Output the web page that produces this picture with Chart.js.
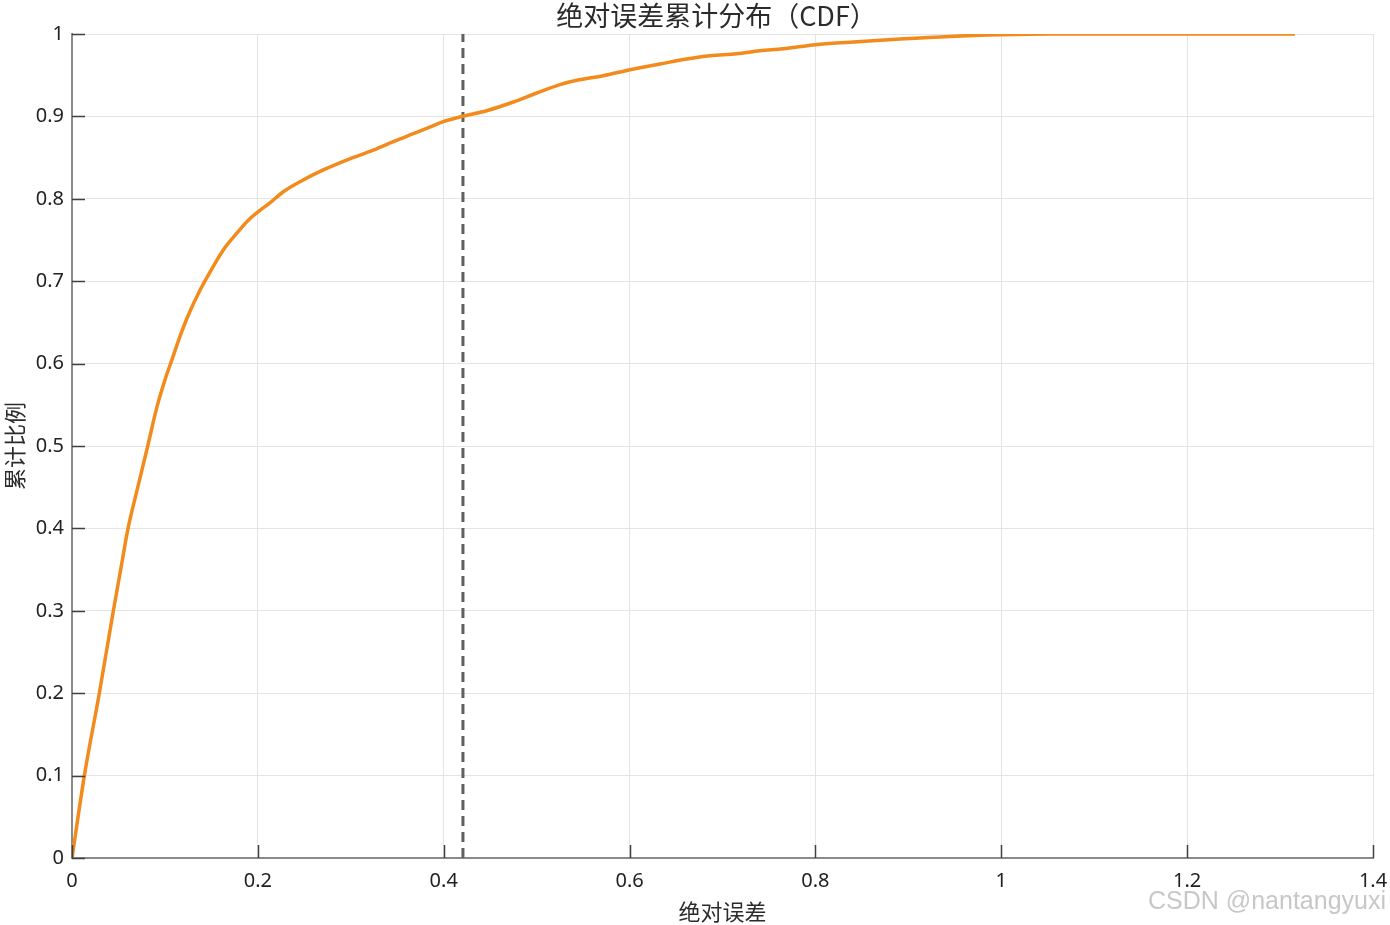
<!DOCTYPE html>
<html>
<head>
<meta charset="utf-8">
<script src="https://cdn.jsdelivr.net/npm/chart.js@4.4.1/dist/chart.umd.min.js"></script>
<style>
  html, body { margin: 0; padding: 0; background: #ffffff; }
  #wrap { width: 1390px; height: 925px; position: relative; }
</style>
</head>
<body>
<div id="wrap"><canvas id="c" width="1390" height="925"></canvas></div>
<script>
// ---- Data ----
const chartTitle = '绝对误差累计分布（CDF）';
const xAxisTitle = '绝对误差';
const yAxisTitle = '累计比例';
const watermark = 'CSDN @nantangyuxi';

const errValues = [0, 0.0133, 0.0294, 0.0445, 0.0524, 0.0603, 0.0708, 0.0815, 0.0911, 0.1011,
  0.1073, 0.1162, 0.1252, 0.1377, 0.1467, 0.1628, 0.1772, 0.1897, 0.2023, 0.2113,
  0.2274, 0.2453, 0.2704, 0.2955, 0.3242, 0.3458, 0.3673, 0.3817, 0.3996, 0.4218,
  0.4462, 0.4749, 0.500, 0.5251, 0.5431, 0.5717, 0.6005, 0.6327, 0.6615, 0.6865,
  0.7152, 0.7403, 0.765, 0.8003, 0.837, 0.891, 0.9448, 1.0, 1.052, 1.316];
const cdfValues = [0, 0.1, 0.2, 0.3, 0.35, 0.4, 0.45, 0.5, 0.546, 0.584,
  0.604, 0.633, 0.659, 0.689, 0.7075, 0.738, 0.758, 0.774, 0.786, 0.7935,
  0.8086, 0.8208, 0.835, 0.847, 0.859, 0.8693, 0.879, 0.8855, 0.8936, 0.9005,
  0.9069, 0.9175, 0.9284, 0.9385, 0.9438, 0.9494, 0.9567, 0.9636, 0.9697, 0.9737,
  0.9760, 0.9797, 0.982, 0.987, 0.990, 0.9939, 0.9971, 0.9991, 1.0, 1.0];

const markerX = [0.4207, 0.4207];   // 90% quantile marker line
const markerY = [0, 1];

const xTicks = [0, 0.2, 0.4, 0.6, 0.8, 1, 1.2, 1.4];
const xTickLabels = ['0', '0.2', '0.4', '0.6', '0.8', '1', '1.2', '1.4'];
const yTicks = [0, 0.1, 0.2, 0.3, 0.4, 0.5, 0.6, 0.7, 0.8, 0.9, 1];
const yTickLabels = ['0', '0.1', '0.2', '0.3', '0.4', '0.5', '0.6', '0.7', '0.8', '0.9', '1'];

// ---- Styles ----
const CJK = '"Noto Sans CJK SC", "Noto Sans", sans-serif';
const NUM = '"Noto Sans", "Noto Sans CJK SC", sans-serif';

const cdfPoints = errValues.map((x, i) => ({ x: x, y: cdfValues[i] }));
const markerPoints = markerX.map((x, i) => ({ x: x, y: markerY[i] }));

const extrasPlugin = {
  id: 'extras',
  afterDraw(chart) {
    const ctx = chart.ctx;
    const a = chart.chartArea;
    const xs = chart.scales.x, ys = chart.scales.y;
    ctx.save();
    // inward tick marks
    ctx.strokeStyle = '#404040';
    ctx.lineWidth = 1.5;
    ctx.beginPath();
    xTicks.forEach(v => {
      const px = Math.round(xs.getPixelForValue(v)) + 0.5;
      ctx.moveTo(px, a.bottom);
      ctx.lineTo(px, a.bottom - 13);
    });
    yTicks.forEach(v => {
      const py = Math.round(ys.getPixelForValue(v)) + 0.5;
      ctx.moveTo(a.left, py);
      ctx.lineTo(a.left + 13, py);
    });
    ctx.stroke();
    // title
    ctx.fillStyle = '#2b2b2b';
    ctx.font = '27px ' + CJK;
    ctx.textAlign = 'center';
    ctx.textBaseline = 'middle';
    ctx.fillText(chartTitle, (a.left + a.right) / 2 - 6, 16);
    // watermark
    ctx.fillStyle = 'rgba(185,185,185,0.8)';
    ctx.font = '25px "Liberation Sans", Arial, sans-serif';
    ctx.textAlign = 'right';
    ctx.textBaseline = 'middle';
    ctx.fillText(watermark, 1386, 902);
    ctx.restore();
  }
};

new Chart(document.getElementById('c'), {
  type: 'line',
  data: {
    datasets: [
      {
        label: 'CDF',
        data: cdfPoints,
        borderColor: '#F28A1C',
        borderWidth: 3.5,
        pointRadius: 0,
        cubicInterpolationMode: 'monotone',
        fill: false
      },
      {
        label: 'marker',
        data: markerPoints,
        borderColor: '#606060',
        borderWidth: 3,
        borderDash: [10, 6],
        pointRadius: 0,
        fill: false
      }
    ]
  },
  options: {
    responsive: false,
    animation: false,
    devicePixelRatio: 1,
    layout: { padding: { top: 34, right: 17, left: 0, bottom: 0 } },
    plugins: {
      legend: { display: false },
      title: { display: false },
      tooltip: { enabled: false }
    },
    scales: {
      x: {
        type: 'linear',
        min: 0, max: 1.4,
        afterBuildTicks: s => { s.ticks = xTicks.map(v => ({ value: v })); },
        afterFit: s => { s.height = 67; s.paddingLeft = 0; s.paddingRight = 0; },
        ticks: {
          autoSkip: false,
          maxRotation: 0,
          padding: 11,
          color: '#222222',
          font: { family: NUM, size: 20 },
          callback: (v) => { const i = xTicks.findIndex(t => Math.abs(t - v) < 1e-9); return i >= 0 ? xTickLabels[i] : ''; }
        },
        grid: { color: '#e4e4e4', lineWidth: 1, drawTicks: false },
        border: { display: true, color: '#8a8a8a', width: 2 },
        title: {
          display: true,
          text: xAxisTitle,
          color: '#2b2b2b',
          font: { family: CJK, size: 22 },
          padding: { top: 0, bottom: 0 }
        }
      },
      y: {
        type: 'linear',
        min: 0, max: 1,
        afterBuildTicks: s => { s.ticks = yTicks.map(v => ({ value: v })); },
        afterFit: s => { s.width = 72; s.paddingTop = 0; s.paddingBottom = 0; },
        ticks: {
          autoSkip: false,
          padding: 8,
          color: '#222222',
          font: { family: NUM, size: 20 },
          callback: (v) => { const i = yTicks.findIndex(t => Math.abs(t - v) < 1e-9); return i >= 0 ? yTickLabels[i] : ''; }
        },
        grid: { color: '#e4e4e4', lineWidth: 1, drawTicks: false },
        border: { display: true, color: '#8a8a8a', width: 2 },
        title: {
          display: true,
          text: yAxisTitle,
          color: '#2b2b2b',
          font: { family: CJK, size: 22 },
          padding: { top: 1, bottom: 0 }
        }
      }
    }
  },
  plugins: [extrasPlugin]
});
</script>
</body>
</html>
